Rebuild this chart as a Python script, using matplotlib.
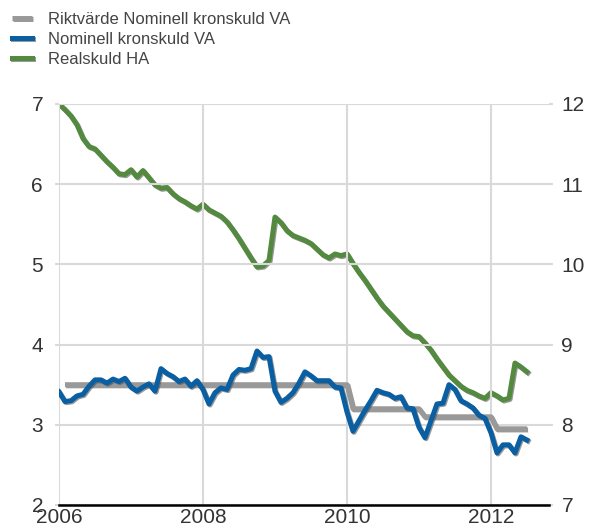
import numpy as np
import matplotlib.pyplot as plt
import matplotlib.patheffects as pe

plt.rcParams['font.family'] = ['Liberation Sans', 'DejaVu Sans']

# monthly observations, Jan 2006 - Jul 2012
nominell = [3.41, 3.29, 3.30, 3.36, 3.38, 3.48, 3.56, 3.56, 3.52, 3.57, 3.54, 3.58,
            3.47, 3.42, 3.47, 3.51, 3.42, 3.70, 3.64, 3.60, 3.54, 3.57, 3.48, 3.55,
            3.44, 3.26, 3.40, 3.46, 3.44, 3.62, 3.69, 3.68, 3.70, 3.92, 3.84, 3.85,
            3.42, 3.28, 3.33, 3.40, 3.52, 3.66, 3.61, 3.55, 3.55, 3.55, 3.47, 3.46,
            3.16, 2.92, 3.05, 3.18, 3.30, 3.43, 3.40, 3.38, 3.33, 3.35, 3.21, 3.20,
            2.97, 2.84, 3.05, 3.26, 3.27, 3.50, 3.44, 3.30, 3.26, 3.21, 3.12, 3.08,
            2.90, 2.65, 2.75, 2.75, 2.65, 2.85, 2.81]

realskuld = [12.00, 11.93, 11.85, 11.74, 11.57, 11.47, 11.44, 11.36, 11.28, 11.21, 11.13, 11.12,
             11.18, 11.09, 11.17, 11.08, 10.99, 10.95, 10.96, 10.88, 10.82, 10.78, 10.73, 10.69,
             10.75, 10.68, 10.64, 10.60, 10.53, 10.43, 10.32, 10.20, 10.08, 9.97, 9.98, 10.05,
             10.59, 10.52, 10.42, 10.36, 10.33, 10.30, 10.26, 10.19, 10.12, 10.08, 10.13, 10.11,
             10.13, 10.01, 9.90, 9.80, 9.69, 9.58, 9.48, 9.40, 9.32, 9.24, 9.16, 9.11,
             9.10, 9.02, 8.93, 8.82, 8.72, 8.62, 8.55, 8.48, 8.43, 8.40, 8.36, 8.33,
             8.40, 8.36, 8.31, 8.33, 8.77, 8.72, 8.66]

# riktvärde, Feb 2006 - Jul 2012
riktvarde = [3.5] * 48 + [3.2] * 12 + [3.1] * 12 + [2.95] * 6

labels = ["Riktvärde Nominell kronskuld VA", "Nominell kronskuld VA", "Realskuld HA"]
colors = ["#999999", "#0a5fa3", "#548a3f"]

months = np.arange(len(nominell))
x = 2006 + months / 12
x_rikt = 2006 + (months[1:]) / 12

fig = plt.figure(figsize=(5.9, 5.28), dpi=100)
ax = fig.add_axes([59 / 590, 23 / 528, 490 / 590, 401 / 528])
ax2 = ax.twinx()

shadow = [pe.SimpleLineShadow(offset=(0.8, -0.8), shadow_color='#555555', alpha=0.6), pe.Normal()]

l1, = ax.plot(x_rikt, riktvarde, color=colors[0], lw=3.6, path_effects=shadow, solid_capstyle='butt')
l2, = ax.plot(x, nominell, color=colors[1], lw=3.6, path_effects=shadow, solid_joinstyle='round')
l3, = ax2.plot(x, realskuld, color=colors[2], lw=3.6, path_effects=shadow, solid_joinstyle='round')

ax.set_xlim(2006, 2012.806)
ax.set_ylim(2, 7)
ax2.set_ylim(7, 12)
ax.set_xticks([2006, 2008, 2010, 2012])
ax.set_yticks([2, 3, 4, 5, 6, 7])
ax2.set_yticks([7, 8, 9, 10, 11, 12])

ax.grid(True, color='#d9d9d9', lw=1.5)
ax.set_axisbelow(True)
ax.set_zorder(ax2.get_zorder() + 1)
ax.patch.set_visible(False)

for a in (ax, ax2):
    for s in ['top', 'left', 'right', 'bottom']:
        a.spines[s].set_visible(False)
ax.spines['bottom'].set_visible(True)
ax.spines['bottom'].set_color('black')
ax.spines['bottom'].set_linewidth(1.8)

ax.tick_params(axis='y', length=3, color='#d9d9d9', width=1.5, labelsize=15, labelcolor='#333333', pad=8.5)
ax.tick_params(axis='x', length=0, labelsize=15, labelcolor='#333333', pad=2)
ax2.tick_params(axis='y', length=3, color='#d9d9d9', width=1.5, labelsize=15, labelcolor='#333333', pad=6)

fig.legend([l1, l2, l3], labels, loc='upper left', bbox_to_anchor=(0.0, 1.0), frameon=False,
           fontsize=12, labelcolor='#444444', handlelength=1.2, handletextpad=1.0,
           labelspacing=0.3, borderaxespad=0.4, borderpad=0.3)

plt.savefig("out.png", dpi=100)
